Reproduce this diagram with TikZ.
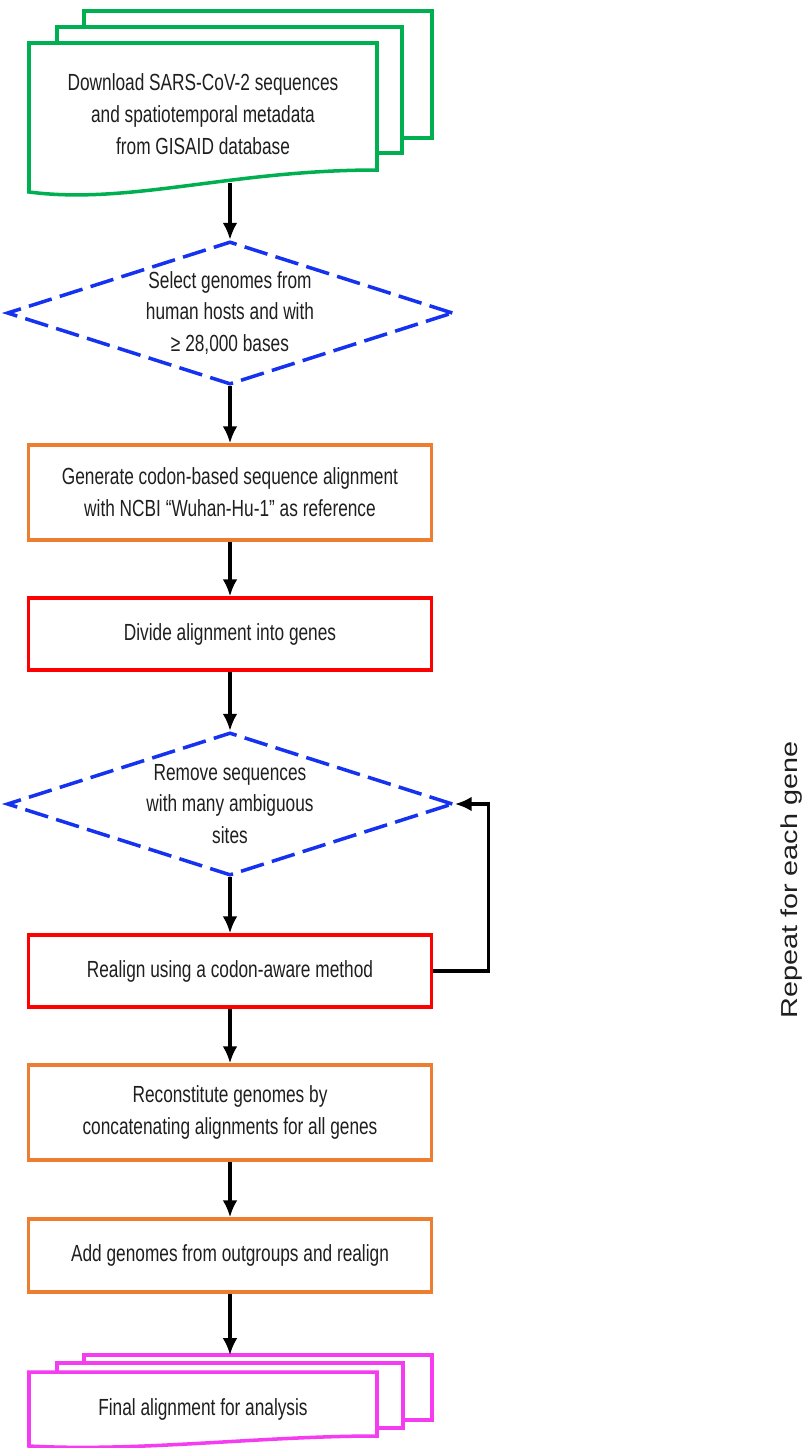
\documentclass[tikz,border=0pt]{standalone}
\usepackage{fontspec}
\setmainfont{Liberation Sans}
\newfontfamily\stepfont{Liberation Sans}[FakeStretch=0.74]
\newfontfamily\sidefont{Liberation Sans}[FakeStretch=1.25]
\usetikzlibrary{positioning,arrows.meta,shapes.geometric}
\definecolor{docgreen}{RGB}{0,176,80}
\definecolor{dashblue}{RGB}{20,50,240}
\definecolor{boxorange}{RGB}{237,125,49}
\definecolor{boxred}{RGB}{255,0,0}
\definecolor{docpink}{RGB}{245,60,240}
\tikzset{
  flowarrow/.style={-{Latex[length=12pt,width=10.5pt]}, line width=2.2pt},
  looparrow/.style={-{Latex[length=12pt,width=10.5pt]}, line width=2.5pt},
  steptext/.style={align=center, text=black!88, font=\stepfont\fontsize{16.6}{22.7}\selectfont},
  stepbox/.style={steptext, draw, line width=2.5pt, fill=white, minimum width=10.075cm},
  orangebox/.style={stepbox, draw=boxorange},
  redbox/.style={stepbox, draw=boxred},
  filterbox/.style={steptext, shape=diamond, draw=dashblue, line width=2.5pt, dash pattern=on 17pt off 6pt,
    aspect=3.12, inner sep=-6pt, minimum width=11.15cm, minimum height=3.575cm},
  docline/.style={draw=#1, line width=2.5pt, fill=white, line join=miter}
}
\begin{document}
\begin{tikzpicture}[x=0.025cm, y=-0.025cm]
  \useasboundingbox (0,0) rectangle (805,1448);

  % input documents
  \draw[docline=docgreen] (84,11) rectangle (432,138);
  \draw[docline=docgreen] (57,27) rectangle (402,153);
  \draw[docline=docgreen] (29,192) -- (29,43) -- (377,43) -- (377,170)
    .. controls (230,170) and (130,205) .. (29,192) -- cycle;
  \node[steptext] (dl) at (203,114) {Download SARS-CoV-2 sequences\\and spatiotemporal metadata\\from GISAID database};
  \coordinate (dl-out) at (230,183);

  % main flow
  \node[filterbox] (sel) at (230,313) {Select genomes from\\human hosts and with\\≥ 28,000 bases};
  \node[orangebox, minimum height=2.375cm] (gen) at (230,492.5) {Generate codon-based sequence alignment\\with NCBI “Wuhan-Hu-1” as reference};
  \node[redbox, minimum height=1.8cm] (div) at (230,634) {Divide alignment into genes};
  \node[filterbox] (rmv) at (230,804) {Remove sequences\\with many ambiguous\\sites};
  \node[redbox, minimum height=1.8cm] (realign) at (230,971) {Realign using a codon-aware method};
  \node[orangebox, minimum height=2.375cm] (recon) at (230,1112.5) {Reconstitute genomes by\\concatenating alignments for all genes};
  \node[orangebox, minimum height=1.825cm] (add) at (230,1255.5) {Add genomes from outgroups and realign};

  % output documents
  \draw[docline=docpink] (84,1355) rectangle (432,1420);
  \draw[docline=docpink] (57,1363) rectangle (403,1428);
  \draw[docline=docpink] (29,1446) -- (29,1372) -- (377,1372) -- (377,1436)
    .. controls (260,1436) and (140,1452) .. (29,1446) -- cycle;
  \node[steptext] (final) at (203,1409) {Final alignment for analysis};
  \coordinate (final-in) at (230,1355);

  \draw[flowarrow] (dl-out) -- (sel.north);
  \draw[flowarrow] (sel.south) -- (gen.north);
  \draw[flowarrow] (gen.south) -- (div.north);
  \draw[flowarrow] (div.south) -- (rmv.north);
  \draw[flowarrow] (rmv.south) -- (realign.north);
  \draw[flowarrow] (realign.south) -- (recon.north);
  \draw[flowarrow] (recon.south) -- (add.north);
  \draw[flowarrow] (add.south) -- (final-in);

  % per-gene loop
  \draw[looparrow] (realign.east) -- ++(55,0) |- (rmv.east);
  \node[rotate=90, text=black!88, font=\sidefont\fontsize{16.4}{20}\selectfont] (rep) at (792,880) {Repeat for each gene};
\end{tikzpicture}
\end{document}
